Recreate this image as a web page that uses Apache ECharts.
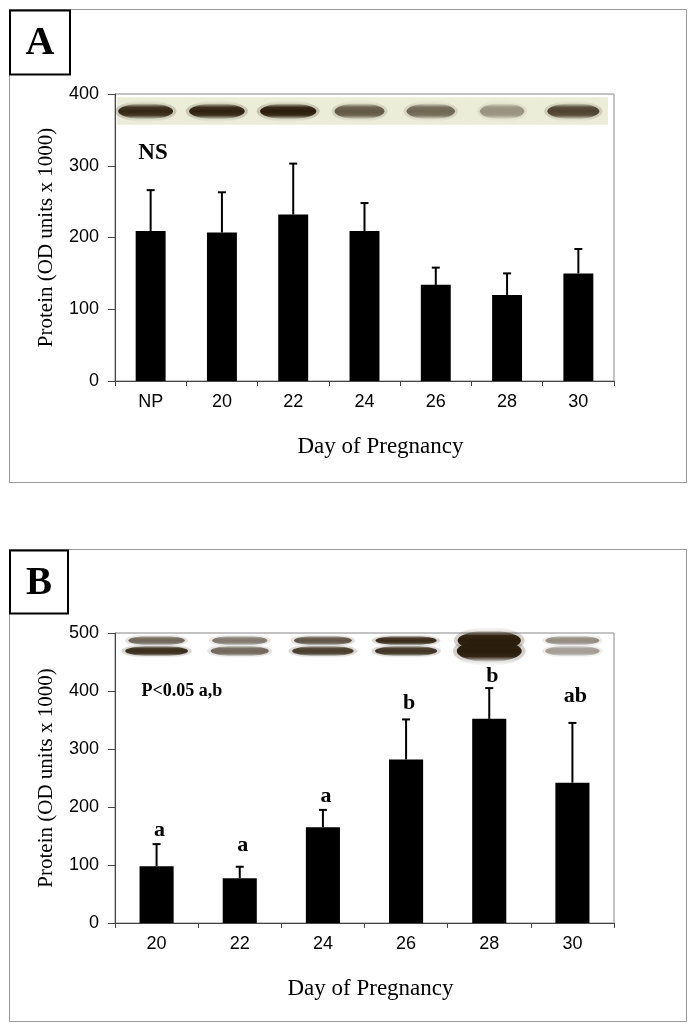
<!DOCTYPE html>
<html>
<head>
<meta charset="utf-8">
<script src="https://cdn.jsdelivr.net/npm/echarts@6/dist/echarts.min.js"></script>
<style>
html,body{margin:0;padding:0;background:#fff;}
#main{width:696px;height:1033px;}
</style>
</head>
<body>
<div id="main"></div>
<script>
// ---------- Data ----------
var catsA = ['NP', '20', '22', '24', '26', '28', '30'];
var meanA = [209, 207, 232, 209, 134, 120, 150];
var errTopA = [266, 263, 303, 248, 158, 150, 184];
var blotA = [0.85, 0.9, 0.95, 0.5, 0.4, 0.12, 0.65];

var catsB = ['20', '22', '24', '26', '28', '30'];
var meanB = [98, 77, 165, 282, 352, 242];
var errTopB = [136, 97, 195, 351, 405, 345];
var sigB = ['a', 'a', 'a', 'b', 'b', 'ab'];
var sigLevelB = [160, 134, 218, 379, 425, 391];
var blotBUpper = [0.5, 0.4, 0.6, 0.85, 1, 0.3];
var blotBLower = [0.85, 0.5, 0.75, 0.8, 1, 0.22];

var yTicksA = [0, 100, 200, 300, 400];
var yTicksB = [0, 100, 200, 300, 400, 500];

// ---------- Helpers ----------
var SERIF = '"Liberation Serif", "Times New Roman", serif';
var SANS = '"Liberation Sans", Arial, sans-serif';
var BAND = '42,28,10';

function errData(mean, top) {
  return mean.map(function (m, i) { return [i, m, top[i]]; });
}

function errRender(params, api) {
  var x = api.value(0);
  var p0 = api.coord([x, api.value(1)]);
  var p1 = api.coord([x, api.value(2)]);
  return {
    type: 'group',
    children: [
      { type: 'line', shape: { x1: p0[0], y1: p0[1], x2: p1[0], y2: p1[1] }, style: { stroke: '#000', lineWidth: 2 } },
      { type: 'line', shape: { x1: p1[0] - 4, y1: p1[1], x2: p1[0] + 4, y2: p1[1] }, style: { stroke: '#000', lineWidth: 2 } }
    ]
  };
}

function col(a) { return 'rgba(' + BAND + ',' + Math.max(0, Math.min(1, a)).toFixed(3) + ')'; }

// soft band: ellipse with a vertical gradient, plus a faint wider halo
function band(cx, cy, rx, ry, a) {
  function grad(alpha) {
    return {
      type: 'linear', x: 0, y: 0, x2: 0, y2: 1,
      colorStops: [
        { offset: 0, color: col(0) },
        { offset: 0.25, color: col(alpha * 0.9) },
        { offset: 0.5, color: col(alpha) },
        { offset: 0.75, color: col(alpha * 0.9) },
        { offset: 1, color: col(0) }
      ]
    };
  }
  return [
    { type: 'ellipse', shape: { cx: cx, cy: cy, rx: rx * 1.12, ry: ry * 1.35 }, style: { fill: grad(a * 0.2) } },
    { type: 'ellipse', shape: { cx: cx, cy: cy, rx: rx, ry: ry }, style: { fill: grad(a) } }
  ];
}

// Blot A: gel strip with one band per lane
function blotRenderA(params, api) {
  var i = api.value(0), v = api.value(1);
  var w = api.size([1, 0])[0];
  var c = api.coord([i, 376]);
  var top = api.coord([i, 395.5])[1], bot = api.coord([i, 357])[1];
  var x0 = c[0] - w / 2 - 0.5, x1 = c[0] + w / 2 + 0.5;
  if (params.dataIndex === 0) x0 += 2.5;
  if (params.dataIndex === catsA.length - 1) x1 -= 6.5;
  var kids = [{ type: 'rect', shape: { x: x0, y: top, width: x1 - x0, height: bot - top }, style: { fill: '#ecedd9' } }];
  return { type: 'group', children: kids.concat(band(c[0] - 5, c[1], w * (0.3 + 0.1 * v), 8, 0.3 + 0.75 * v)) };
}

// Blot B: doublet bands per lane
function blotRenderB(params, api) {
  var i = api.value(0), up = api.value(1), lo = api.value(2);
  var w = api.size([1, 0])[0];
  var cu = api.coord([i, 487]);
  var cl = api.coord([i, 469]);
  var big = (up + lo) / 2 > 0.95;
  var kids = band(cu[0], cu[1], w * (0.3 + 0.08 * up), big ? 10 : 5, 0.2 + 0.85 * up)
    .concat(band(cl[0], cl[1], w * (0.31 + 0.08 * lo), big ? 11 : 5.5, 0.2 + 0.85 * lo));
  return { type: 'group', children: kids };
}

function sigRender(params, api) {
  var i = api.value(0);
  var p = api.coord([i, api.value(1)]);
  return {
    type: 'text',
    x: p[0] + 3, y: p[1],
    style: {
      text: sigB[params.dataIndex], fill: '#000',
      font: 'bold 22px ' + SERIF,
      align: 'center', verticalAlign: 'middle',
      textAlign: 'center', textVerticalAlign: 'middle'
    }
  };
}

function xAxisCfg(gi, cats, shift) {
  return {
    gridIndex: gi, type: 'category', data: cats,
    axisLine: { lineStyle: { color: '#444', width: 1 } },
    axisTick: { show: true, length: 5, lineStyle: { color: '#444' } },
    axisLabel: { color: '#000', fontSize: 18, fontFamily: SANS, margin: 12 },
    name: 'Day of Pregnancy', nameLocation: 'middle', nameGap: 54,
    nameTextStyle: { color: '#000', fontSize: 23, fontFamily: SERIF, padding: [0, 0, 0, shift] },
    splitLine: { show: false }
  };
}

function yAxisCfg(gi, ticks) {
  return {
    gridIndex: gi, type: 'value',
    min: ticks[0], max: ticks[ticks.length - 1], interval: ticks[1] - ticks[0],
    axisLine: { show: true, lineStyle: { color: '#444', width: 1 } },
    axisTick: { show: true, length: 7, lineStyle: { color: '#444' } },
    axisLabel: { color: '#000', fontSize: 18, fontFamily: SANS, margin: 16 },
    splitLine: { show: false },
    name: 'Protein (OD units x 1000)', nameLocation: 'middle', nameGap: 58,
    nameTextStyle: { color: '#000', fontSize: 21, fontFamily: SERIF }
  };
}

function txt(x, y, text, font) {
  return {
    type: 'text', x: x, y: y, z: 10,
    style: { text: text, font: font, fill: '#000', align: 'center', verticalAlign: 'middle', textAlign: 'center', textVerticalAlign: 'middle' }
  };
}

var chart = echarts.init(document.getElementById('main'), null, { renderer: 'canvas', width: 696, height: 1033 });

chart.setOption({
  animation: false,
  backgroundColor: '#fff',
  grid: [
    { left: 115, top: 94, width: 499, height: 287, show: true, borderColor: '#888', borderWidth: 1, backgroundColor: 'transparent' },
    { left: 115, top: 633, width: 499, height: 290, show: true, borderColor: '#888', borderWidth: 1, backgroundColor: 'transparent' }
  ],
  xAxis: [xAxisCfg(0, catsA, 32), xAxisCfg(1, catsB, 12)],
  yAxis: [yAxisCfg(0, yTicksA), yAxisCfg(1, yTicksB)],
  graphic: [
    { type: 'rect', shape: { x: 9.5, y: 9.5, width: 677, height: 473 }, style: { fill: 'none', stroke: '#9a9a9a', lineWidth: 1 } },
    { type: 'rect', shape: { x: 10, y: 10.5, width: 60, height: 64 }, style: { fill: '#fff', stroke: '#000', lineWidth: 2 }, z: 5 },
    txt(40, 44, 'A', 'bold 40px ' + SERIF),
    { type: 'rect', shape: { x: 9.5, y: 549.5, width: 677, height: 472 }, style: { fill: 'none', stroke: '#9a9a9a', lineWidth: 1 } },
    { type: 'rect', shape: { x: 10, y: 550.5, width: 58, height: 63 }, style: { fill: '#fff', stroke: '#000', lineWidth: 2 }, z: 5 },
    txt(39, 584, 'B', 'bold 39px ' + SERIF),
    txt(153, 153, 'NS', 'bold 23px ' + SERIF),
    txt(182, 691, 'P<0.05 a,b', 'bold 18px ' + SERIF)
  ],
  series: [
    {
      type: 'custom', xAxisIndex: 0, yAxisIndex: 0, silent: true, z: 1,
      data: blotA.map(function (v, i) { return [i, v]; }),
      encode: { x: 0, y: 1 },
      renderItem: blotRenderA
    },
    {
      type: 'bar', xAxisIndex: 0, yAxisIndex: 0, barWidth: '42%',
      itemStyle: { color: '#000' }, data: meanA, z: 2
    },
    {
      type: 'custom', xAxisIndex: 0, yAxisIndex: 0, z: 3,
      data: errData(meanA, errTopA), encode: { x: 0, y: [1, 2] },
      renderItem: errRender
    },
    {
      type: 'custom', xAxisIndex: 1, yAxisIndex: 1, silent: true, z: 1,
      data: blotBUpper.map(function (v, i) { return [i, v, blotBLower[i]]; }),
      encode: { x: 0, y: 1 },
      renderItem: blotRenderB
    },
    {
      type: 'bar', xAxisIndex: 1, yAxisIndex: 1, barWidth: '41%',
      itemStyle: { color: '#000' }, data: meanB, z: 2
    },
    {
      type: 'custom', xAxisIndex: 1, yAxisIndex: 1, z: 3,
      data: errData(meanB, errTopB), encode: { x: 0, y: [1, 2] },
      renderItem: errRender
    },
    {
      type: 'custom', xAxisIndex: 1, yAxisIndex: 1, z: 4,
      data: sigLevelB.map(function (v, i) { return [i, v]; }), encode: { x: 0, y: 1 },
      renderItem: sigRender
    }
  ]
});
</script>
</body>
</html>
